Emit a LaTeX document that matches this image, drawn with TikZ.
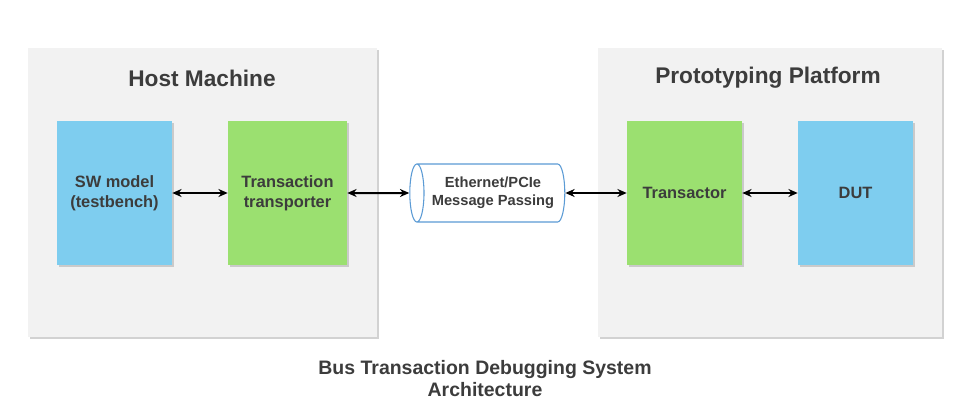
\documentclass[tikz,border=0pt]{standalone}
\usepackage{fontspec}
\setmainfont{Liberation Sans}
\usetikzlibrary{shapes.geometric,arrows.meta,shadows}

\definecolor{panelgray}{HTML}{F2F2F2}
\definecolor{boxblue}{HTML}{7ECDEF}
\definecolor{boxgreen}{HTML}{9BE070}
\definecolor{textgray}{HTML}{3C3C3C}
\definecolor{pipeblue}{HTML}{5B9BD5}

\begin{document}
\begin{tikzpicture}[
    x=0.75pt, y=-0.75pt,
    panel/.style={draw=none, fill=panelgray, minimum height=216.75pt,
        drop shadow={shadow xshift=1.5pt, shadow yshift=-1.5pt, opacity=0.35}},
    paneltitle/.style={font=\fontsize{17}{20}\selectfont\bfseries, text=textgray},
    block/.style={draw=none, minimum width=86.25pt, minimum height=108pt, align=center,
        font=\fontsize{12.3}{15}\selectfont\bfseries, text=textgray,
        drop shadow={shadow xshift=1.5pt, shadow yshift=-1.5pt, opacity=0.35}},
    pipe/.style={cylinder, shape border rotate=180, aspect=0.35, draw=pipeblue, thick,
        fill=white, minimum width=43.5pt, minimum height=116.25pt, align=center,
        font=\fontsize{11}{13.5}\selectfont\bfseries, text=textgray},
    link/.style={line width=1.5pt, {Stealth[length=7pt,width=6pt]}-{Stealth[length=7pt,width=6pt]}},
]

\useasboundingbox[fill=white] (0,0) rectangle (970,406);

% Panels
\node[panel, minimum width=261.75pt] (host) at (202.5,192.5) {};
\node[panel, minimum width=258pt] (proto) at (770,192.5) {};
\node[paneltitle] (hosttitle) at (202,78) {Host Machine};
\node[paneltitle] (prototitle) at (768,78) {Prototyping Platform};

% Host side
\node[block, fill=boxblue] (sw) at (114.5,193) {SW model\\(testbench)};
\node[block, fill=boxgreen, minimum width=89.25pt] (tt) at (287.5,193) {Transaction\\transporter};

% Link
\node[pipe] (link) at (493,193) {Ethernet/PCIe\\Message Passing};

% Platform side
\node[block, fill=boxgreen] (xtor) at (684.5,193) {Transactor};
\node[block, fill=boxblue] (dut) at (855.5,193) {DUT};

\draw[link] (sw) -- (tt);
\draw[link] (tt) -- (link);
\draw[link] (link) -- (xtor);
\draw[link] (xtor) -- (dut);

% Caption
\node[font=\fontsize{14.6}{16.5}\selectfont\bfseries, text=textgray, align=center] (caption)
    at (485,379) {Bus Transaction Debugging System\\Architecture};

\end{tikzpicture}
\end{document}
